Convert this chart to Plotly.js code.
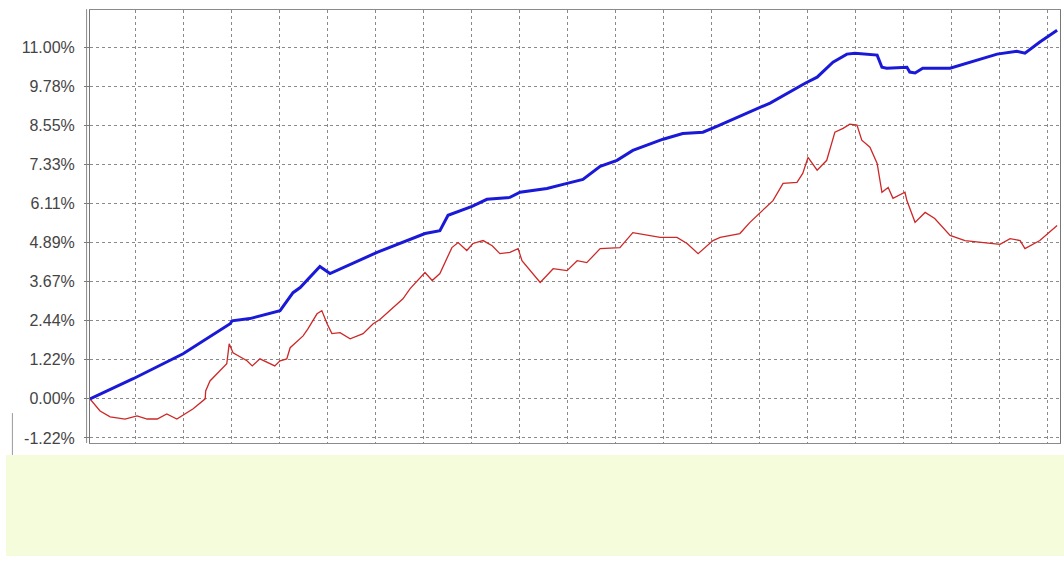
<!DOCTYPE html>
<html>
<head>
<meta charset="utf-8">
<script src="https://cdn.plot.ly/plotly-3.0.1.min.js"></script>
<style>
  html, body { margin: 0; padding: 0; background: #ffffff; }
  #chart { width: 1064px; height: 566px; }
</style>
</head>
<body>
<div id="chart"></div>
<script>
// Period index (x) and cumulative return in percent (y)
const blueX = [0, 0.90, 1.94, 2.44, 2.92, 2.96, 3.33, 3.96, 4.23, 4.38, 4.79, 5.00, 5.98, 6.98, 7.29, 7.46, 7.96, 8.27, 8.75, 8.96, 9.52, 9.94, 10.27, 10.63, 10.98, 11.31, 11.94, 12.35, 12.77, 13.06, 13.75, 14.17, 14.90, 15.15, 15.48, 15.77, 15.94, 16.40, 16.50, 16.60, 17.02, 17.08, 17.19, 17.35, 17.92, 18.33, 18.90, 19.31, 19.48, 19.79, 20.15];
const blueY = [0, 0.63, 1.41, 1.88, 2.35, 2.44, 2.51, 2.76, 3.32, 3.48, 4.14, 3.92, 4.58, 5.17, 5.26, 5.74, 6.02, 6.24, 6.30, 6.46, 6.58, 6.74, 6.86, 7.27, 7.46, 7.77, 8.12, 8.30, 8.34, 8.52, 8.96, 9.25, 9.87, 10.06, 10.53, 10.78, 10.81, 10.75, 10.37, 10.34, 10.37, 10.22, 10.19, 10.34, 10.34, 10.53, 10.78, 10.87, 10.81, 11.16, 11.53];

const redX = [0, 0.21, 0.42, 0.73, 0.98, 1.19, 1.40, 1.60, 1.81, 2.15, 2.40, 2.41, 2.50, 2.77, 2.85, 2.90, 2.98, 3.27, 3.38, 3.54, 3.75, 3.85, 3.96, 4.10, 4.17, 4.44, 4.54, 4.73, 4.83, 4.94, 5.04, 5.21, 5.42, 5.69, 5.90, 6.04, 6.52, 6.67, 6.98, 7.13, 7.29, 7.54, 7.67, 7.85, 7.98, 8.19, 8.38, 8.54, 8.75, 8.92, 9.00, 9.23, 9.38, 9.65, 9.94, 10.15, 10.35, 10.63, 11.04, 11.31, 11.67, 11.88, 12.23, 12.44, 12.67, 12.98, 13.13, 13.54, 13.75, 14.23, 14.44, 14.73, 14.85, 14.96, 15.15, 15.35, 15.52, 15.69, 15.83, 15.98, 16.08, 16.25, 16.40, 16.50, 16.63, 16.73, 16.98, 17.02, 17.19, 17.40, 17.60, 17.92, 18.23, 18.75, 18.96, 19.17, 19.38, 19.48, 19.79, 20.15];
const redY = [0, -0.38, -0.56, -0.63, -0.53, -0.63, -0.63, -0.47, -0.63, -0.31, 0, 0.25, 0.56, 0.97, 1.10, 1.72, 1.44, 1.19, 1.03, 1.25, 1.10, 1.03, 1.19, 1.25, 1.60, 1.97, 2.19, 2.66, 2.76, 2.35, 2.04, 2.07, 1.88, 2.04, 2.35, 2.48, 3.13, 3.45, 3.95, 3.70, 3.92, 4.73, 4.89, 4.64, 4.86, 4.95, 4.79, 4.54, 4.58, 4.70, 4.32, 3.92, 3.64, 4.07, 4.01, 4.32, 4.26, 4.70, 4.73, 5.20, 5.11, 5.05, 5.05, 4.86, 4.54, 4.95, 5.05, 5.17, 5.52, 6.20, 6.74, 6.77, 7.05, 7.55, 7.15, 7.46, 8.34, 8.46, 8.59, 8.56, 8.09, 7.87, 7.36, 6.46, 6.61, 6.27, 6.46, 6.20, 5.52, 5.83, 5.64, 5.11, 4.95, 4.86, 4.83, 5.01, 4.95, 4.70, 4.95, 5.42];

const yTickVals = [-1.2222, 0, 1.2222, 2.4444, 3.6667, 4.8889, 6.1111, 7.3333, 8.5556, 9.7778, 11.0];
const yTickText = ["-1.22%", "0.00%", "1.22%", "2.44%", "3.67%", "4.89%", "6.11%", "7.33%", "8.55%", "9.78%", "11.00%"];

const traces = [
  { x: redX, y: redY, type: 'scatter', mode: 'lines', line: { color: 'rgb(205,40,40)', width: 1.3 }, hoverinfo: 'skip', showlegend: false },
  { x: blueX, y: blueY, type: 'scatter', mode: 'lines', line: { color: 'rgb(25,25,215)', width: 3 }, hoverinfo: 'skip', showlegend: false }
];

const layout = {
  width: 1064, height: 566,
  margin: { l: 90, r: 4, t: 10, b: 123 },
  paper_bgcolor: '#ffffff', plot_bgcolor: '#ffffff',
  font: { family: 'Liberation Sans, Arial, sans-serif', size: 16, color: '#444444' },
  xaxis: {
    range: [0, 20.21], tick0: 0.958, dtick: 1, showticklabels: false,
    showgrid: true, gridcolor: '#8a8a8a', griddash: '3px,3px', gridwidth: 1,
    zeroline: false, showline: true, linecolor: '#8a8a8a', linewidth: 1, mirror: true,
    ticks: ''
  },
  yaxis: {
    range: [-1.38, 12.16], tickmode: 'array', tickvals: yTickVals, ticktext: yTickText,
    showgrid: true, gridcolor: '#8a8a8a', griddash: '3px,3px', gridwidth: 1,
    zeroline: false, showline: true, linecolor: '#777777', linewidth: 1, mirror: true,
    ticks: 'outside', ticklen: 5, tickcolor: '#777777', ticklabelstandoff: 6
  },
  shapes: [
    { type: 'line', xref: 'paper', yref: 'paper', x0: -0.0035, x1: -0.0035, y0: 0, y1: 1.002, line: { color: '#888888', width: 1 } },
    { type: 'rect', xref: 'paper', yref: 'paper', x0: -0.0866, x1: 1.0045, y0: -0.0277, y1: -0.261, fillcolor: 'rgb(245,252,220)', line: { width: 0 }, layer: 'above' },
    { type: 'line', xref: 'paper', yref: 'paper', x0: -0.08, x1: -0.08, y0: -0.0277, y1: 0.069, line: { color: '#999999', width: 1 } }
  ]
};

Plotly.newPlot('chart', traces, layout, { displayModeBar: false, staticPlot: true });
</script>
</body>
</html>
